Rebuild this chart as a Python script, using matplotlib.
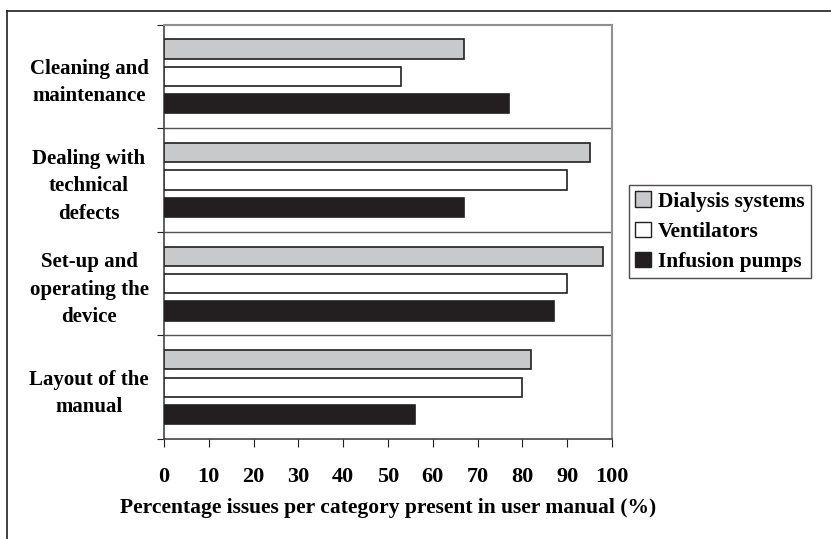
import matplotlib
matplotlib.use("Agg")
import matplotlib.pyplot as plt
from matplotlib.lines import Line2D
from matplotlib.patches import Patch
import numpy as np

categories = ["Cleaning and\nmaintenance", "Dealing with\ntechnical\ndefects",
              "Set-up and\noperating the\ndevice", "Layout of the\nmanual"]
series = ["Dialysis systems", "Ventilators", "Infusion pumps"]
dialysis = [67, 95, 98, 82]
ventilators = [53, 90, 90, 80]
infusion = [77, 67, 87, 56]
xticks = list(range(0, 101, 10))

plt.rcParams['font.family'] = ['Liberation Serif', 'DejaVu Serif']
plt.rcParams['font.weight'] = 'bold'

W, H = 831, 539
fig = plt.figure(figsize=(W/100, H/100), dpi=100)
ax = fig.add_axes([164/W, 1-439/H, (612-164)/W, (439-24.5)/H])

n = len(categories)
centers = np.arange(n)[::-1] + 0.5  # top group first
bh = 0.185
sp = 0.264
vals = [dialysis, ventilators, infusion]
faces = ['#c8c9ca', 'white', '#231f20']
for i, (v, fc) in enumerate(zip(vals, faces)):
    y = centers + (1 - i) * sp
    ax.barh(y, v, height=bh, color=fc, edgecolor='#231f20', linewidth=1.2,
            label=series[i], zorder=3)

ax.set_xlim(0, 100)
ax.set_ylim(0, n)
ax.set_xticks(xticks)
ax.set_xticklabels([str(t) for t in xticks], fontsize=16, fontweight='bold')
ax.set_yticks(range(0, n + 1))
ax.set_yticklabels([])
ax.set_yticks(centers, minor=True)
ax.set_yticklabels(categories, minor=True, fontsize=15, fontweight='bold',
                   ha='center', linespacing=1.5)
ax.tick_params(axis='y', which='minor', length=0, pad=54)
ax.tick_params(axis='y', which='major', length=5, direction='out', color='#231f20')
ax.tick_params(axis='x', length=6, direction='out', pad=14, color='#231f20')
for b in range(1, n):
    ax.axhline(b, color='#555555', linewidth=1.0, zorder=1)
for s in ['top', 'right']:
    ax.spines[s].set_color('#909090')
    ax.spines[s].set_linewidth(1.5)
for s in ['left', 'bottom']:
    ax.spines[s].set_color('#444444')
    ax.spines[s].set_linewidth(1.2)

ax.set_xlabel("Percentage issues per category present in user manual (%)",
              fontsize=15.5, fontweight='bold', labelpad=8)

handles = [Patch(facecolor=fc, edgecolor='#231f20', linewidth=1.0) for fc in faces]
leg = fig.legend(handles, series, loc='upper left',
                 bbox_to_anchor=(629/W, 1-185/H), fontsize=15.5,
                 frameon=True, fancybox=False, edgecolor='#231f20',
                 handlelength=0.7, handleheight=0.7, handletextpad=0.35,
                 borderpad=0.3, labelspacing=0.47, borderaxespad=0)
leg.get_frame().set_linewidth(1.0)

# outer frame
fig.add_artist(Line2D([7/W, 7/W], [0, 1-11/H], color='#231f20', lw=1.2))
fig.add_artist(Line2D([7/W, 1], [1-11/H, 1-11/H], color='#231f20', lw=1.2))

fig.savefig("out.png", dpi=100)
